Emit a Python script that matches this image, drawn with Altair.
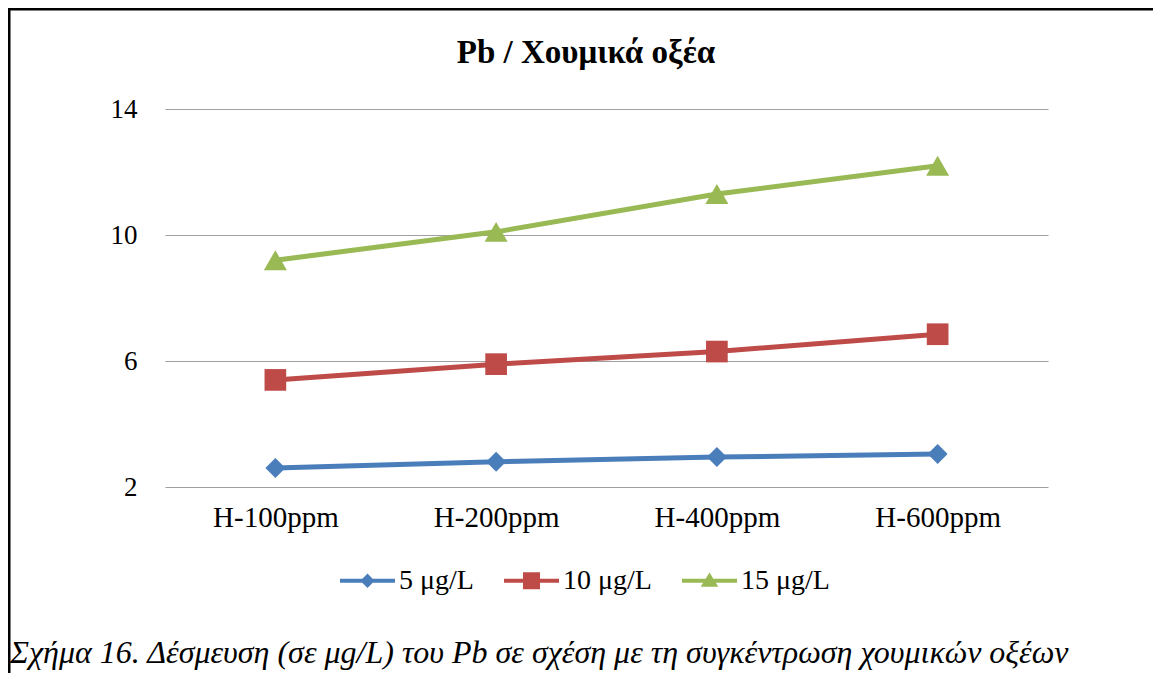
import altair as alt
import pandas as pd

categories = ["H-100ppm", "H-200ppm", "H-400ppm", "H-600ppm"]
series_names = ["5 μg/L", "10 μg/L", "15 μg/L"]
s5 = [2.6, 2.8, 2.95, 3.05]
s10 = [5.4, 5.9, 6.3, 6.85]
s15 = [9.2, 10.1, 11.3, 12.2]
colors = ["#4A7EBB", "#BE4B48", "#98B954"]
marker_shapes = ["diamond", "square", "triangle-up"]
marker_sizes = [400, 470, 529]
y_ticks = [2, 6, 10, 14]
title_text = "Pb / Χουμικά οξέα"
caption_text = "Σχήμα 16. Δέσμευση (σε μg/L) του Pb σε σχέση με τη συγκέντρωση χουμικών οξέων"

rows = []
for name, vals in zip(series_names, [s5, s10, s15]):
    for c, v in zip(categories, vals):
        rows.append({"cat": c, "series": name, "value": v})
df = pd.DataFrame(rows)

FONT = "Liberation Serif, Times New Roman, serif"

# legend symbols: a line segment with the series marker on it
line_path = "M-1,-0.075L1,-0.075L1,0.075L-1,0.075Z"
legend_paths = [
    line_path + "M0,-0.26L0.26,0L0,0.26L-0.26,0Z",
    line_path + "M-0.31,-0.31L0.31,-0.31L0.31,0.31L-0.31,0.31Z",
    line_path + "M0,-0.3L0.32,0.22L-0.32,0.22Z",
]

color_scale = alt.Scale(domain=series_names, range=colors)

x_enc = alt.X("cat:N", sort=categories, title=None,
              scale=alt.Scale(type="point", padding=0.5),
              axis=alt.Axis(labelAngle=0, domain=False, ticks=False, grid=False,
                            labelPadding=16, labelFont=FONT, labelFontSize=29,
                            labelColor="#000"))
y_enc = alt.Y("value:Q", title=None,
              scale=alt.Scale(domain=[2, 14], nice=False, zero=False),
              axis=alt.Axis(values=y_ticks, domain=False, ticks=False, grid=True,
                            gridColor="#A0A0A0", gridWidth=1.2,
                            labelPadding=28, labelFont=FONT, labelFontSize=27,
                            labelColor="#000"))

legend_def = alt.Legend(
    title=None, orient="none", direction="horizontal",
    legendX=175, legendY=444,
    labelFont=FONT, labelFontSize=28, labelColor="#000",
    labelOffset=4, columnPadding=30,
    symbolSize=3025, symbolStrokeWidth=0, symbolOpacity=1,
)

# invisible layer that only carries the legend (line + marker symbols)
legend_layer = alt.Chart(df).mark_point(filled=True, size=3025, strokeWidth=0, opacity=0).encode(
    x=x_enc, y=y_enc,
    color=alt.Color("series:N", scale=color_scale, legend=legend_def),
    shape=alt.Shape("series:N", scale=alt.Scale(domain=series_names, range=legend_paths),
                    legend=legend_def),
)

lines = alt.Chart(df).mark_line(strokeWidth=5).encode(
    x=alt.X("cat:N", sort=categories), y="value:Q",
    color=alt.Color("series:N", scale=color_scale, legend=None),
    detail="series:N")

point_layers = []
for name, shp, sz in zip(series_names, marker_shapes, marker_sizes):
    point_layers.append(
        alt.Chart(df).transform_filter(alt.datum.series == name)
        .mark_point(filled=True, opacity=1, strokeWidth=0, shape=shp, size=sz)
        .encode(x=alt.X("cat:N", sort=categories), y="value:Q",
                color=alt.Color("series:N", scale=color_scale, legend=None))
    )

title = alt.Chart(pd.DataFrame({"t": [title_text]})).mark_text(
    font=FONT, fontSize=33, fontWeight="bold", align="center", baseline="alphabetic",
    color="#000").encode(text="t:N", x=alt.value(421), y=alt.value(-46))

caption = alt.Chart(pd.DataFrame({"t": [caption_text]})).mark_text(
    font=FONT, fontSize=32, fontStyle="italic", align="left", baseline="alphabetic",
    color="#000").encode(text="t:N", x=alt.value(-155), y=alt.value(554))

border_top = alt.Chart(pd.DataFrame({"a": [0]})).mark_rule(color="#000", strokeWidth=3).encode(
    x=alt.value(-157), x2=alt.value(990), y=alt.value(-100))
border_left = alt.Chart(pd.DataFrame({"a": [0]})).mark_rule(color="#000", strokeWidth=3).encode(
    x=alt.value(-156), y=alt.value(-101), y2=alt.value(570))

chart = alt.layer(legend_layer, lines, *point_layers, title, caption,
                  border_top, border_left).properties(
    width=883, height=378,
    autosize=alt.AutoSizeParams(type="none"),
    padding={"left": 157, "top": 101, "right": 105, "bottom": 186},
).configure_view(stroke=None)

chart.save("out.html", embed_options={"renderer": "svg", "actions": False})
